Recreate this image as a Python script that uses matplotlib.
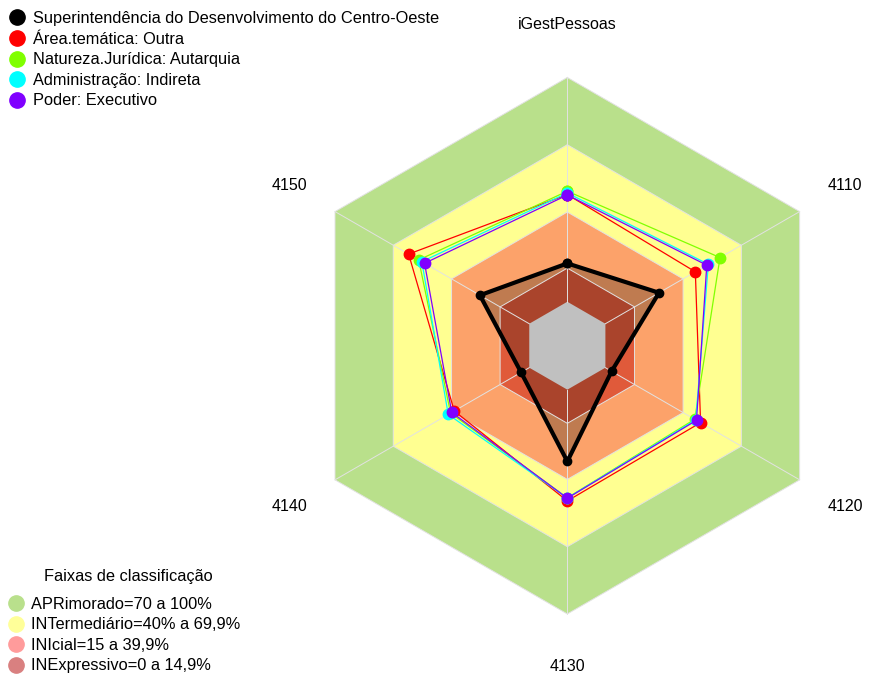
import numpy as np
import matplotlib
matplotlib.use('Agg')
import matplotlib.pyplot as plt
from matplotlib.lines import Line2D

plt.rcParams['font.family'] = ['Liberation Sans', 'DejaVu Sans']

# ---------------- data ----------------
axis_labels = ['iGestPessoas', '4110', '4120', '4130', '4140', '4150']

series_names = ['Superintendência do Desenvolvimento do Centro-Oeste',
                'Área.temática: Outra',
                'Natureza.Jurídica: Autarquia',
                'Administração: Indireta',
                'Poder: Executivo']
series_colors = ['#000000', '#ff0000', '#80ff00', '#00ffff', '#8000ff']

vals_orgao = [17.1, 27.6, 3.2, 32.0, 4.2, 25.4]
vals_area = [47.8, 46.3, 49.0, 49.6, 38.6, 62.1]
vals_natureza = [49.3, 59.0, 46.0, 48.2, 40.5, 56.9]
vals_admin = [48.5, 53.0, 46.5, 48.3, 41.7, 55.3]
vals_poder = [47.6, 52.2, 46.9, 48.4, 39.9, 53.9]
series_values = [vals_orgao, vals_area, vals_natureza, vals_admin, vals_poder]

band_edges = [15, 40, 70, 100]
band_colors = ['#e05a3a', '#fca26a', '#ffff91', '#b9e08b']
band_labels = ['INExpressivo=0 a 14,9%', 'INIcial=15 a 39,9%',
               'INTermediário=40% a 69,9%', 'APRimorado=70 a 100%']
band_legend_colors = ['#d98080', '#ff9b9b', '#ffff99', '#b9e08c']
legend2_title = 'Faixas de classificação'

# ---------------- figure ----------------
fig = plt.figure(figsize=(8.69, 6.8), dpi=100)
ax = fig.add_axes([0.3441, 0.0971, 0.6175, 0.789], projection='polar')
ax.set_theta_offset(np.pi / 2)
ax.set_theta_direction(-1)
ax.set_ylim(0, 100)
ax.set_rorigin(-19.6)
ax.grid(False)
ax.set_xticks([])
ax.set_yticks([])
for sp in ax.spines.values():
    sp.set_visible(False)
    sp.set_linewidth(0)
    sp.set_edgecolor('none')
ax.patch.set_visible(False)

n = len(axis_labels)
theta = np.linspace(0, 2 * np.pi, n, endpoint=False)
theta_c = np.append(theta, theta[0])

# bands (outermost first)
for edge, col in zip(band_edges[::-1], band_colors[::-1]):
    ax.fill(theta_c, [edge] * (n + 1), color=col, lw=0, zorder=1, clip_on=False)

# black series fill (semi-transparent)
v0 = np.append(vals_orgao, vals_orgao[0])
ax.fill(theta_c, v0, color='black', alpha=0.24, lw=0, zorder=2, clip_on=False)

# grey centre
ax.fill(theta_c, [0] * (n + 1), color='#c0c0c0', lw=0, zorder=3, clip_on=False)

# grid lines
grid_col = '#e2e2e2'
for edge in band_edges:
    ax.plot(theta_c, [edge] * (n + 1), color=grid_col, lw=0.7, zorder=3.5, clip_on=False)
for t in theta:
    ax.plot([t, t], [0, 100], color=grid_col, lw=0.7, zorder=3.5, clip_on=False)

# series
for i, (name, col, vals) in enumerate(zip(series_names, series_colors, series_values)):
    vc = np.append(vals, vals[0])
    if i == 0:
        ax.plot(theta_c, vc, color=col, lw=3, marker='o', ms=6, zorder=10, clip_on=False)
    else:
        ax.plot(theta_c, vc, color=col, lw=0.9, marker='o', ms=7.5, zorder=5 + i, clip_on=False)

# axis labels
for t, lab in zip(theta, axis_labels):
    ax.text(t, 123.5, lab, ha='center', va='center', fontsize=11.5, clip_on=False)

# legends
h1 = [Line2D([], [], ls='none', marker='o', ms=11, color=c) for c in series_colors]
leg1 = fig.legend(h1, series_names, loc='upper left', bbox_to_anchor=(0.003, 0.9956),
                  frameon=False, fontsize=11.8, handlelength=0.8, handletextpad=0.55,
                  labelspacing=0.34, borderaxespad=0.3, borderpad=0.2)

h2 = [Line2D([], [], ls='none', marker='o', ms=11, color=c) for c in band_legend_colors[::-1]]
leg2 = fig.legend(h2, band_labels[::-1], loc='lower left', bbox_to_anchor=(0.003, 0.0),
                  frameon=False, fontsize=11.8, handlelength=0.8, handletextpad=0.55,
                  labelspacing=0.34, borderaxespad=0.2, borderpad=0.2)
fig.text(128 / 869, 1 - 577 / 680, legend2_title, ha='center', va='center', fontsize=11.8)

fig.savefig('out.png', dpi=100)
